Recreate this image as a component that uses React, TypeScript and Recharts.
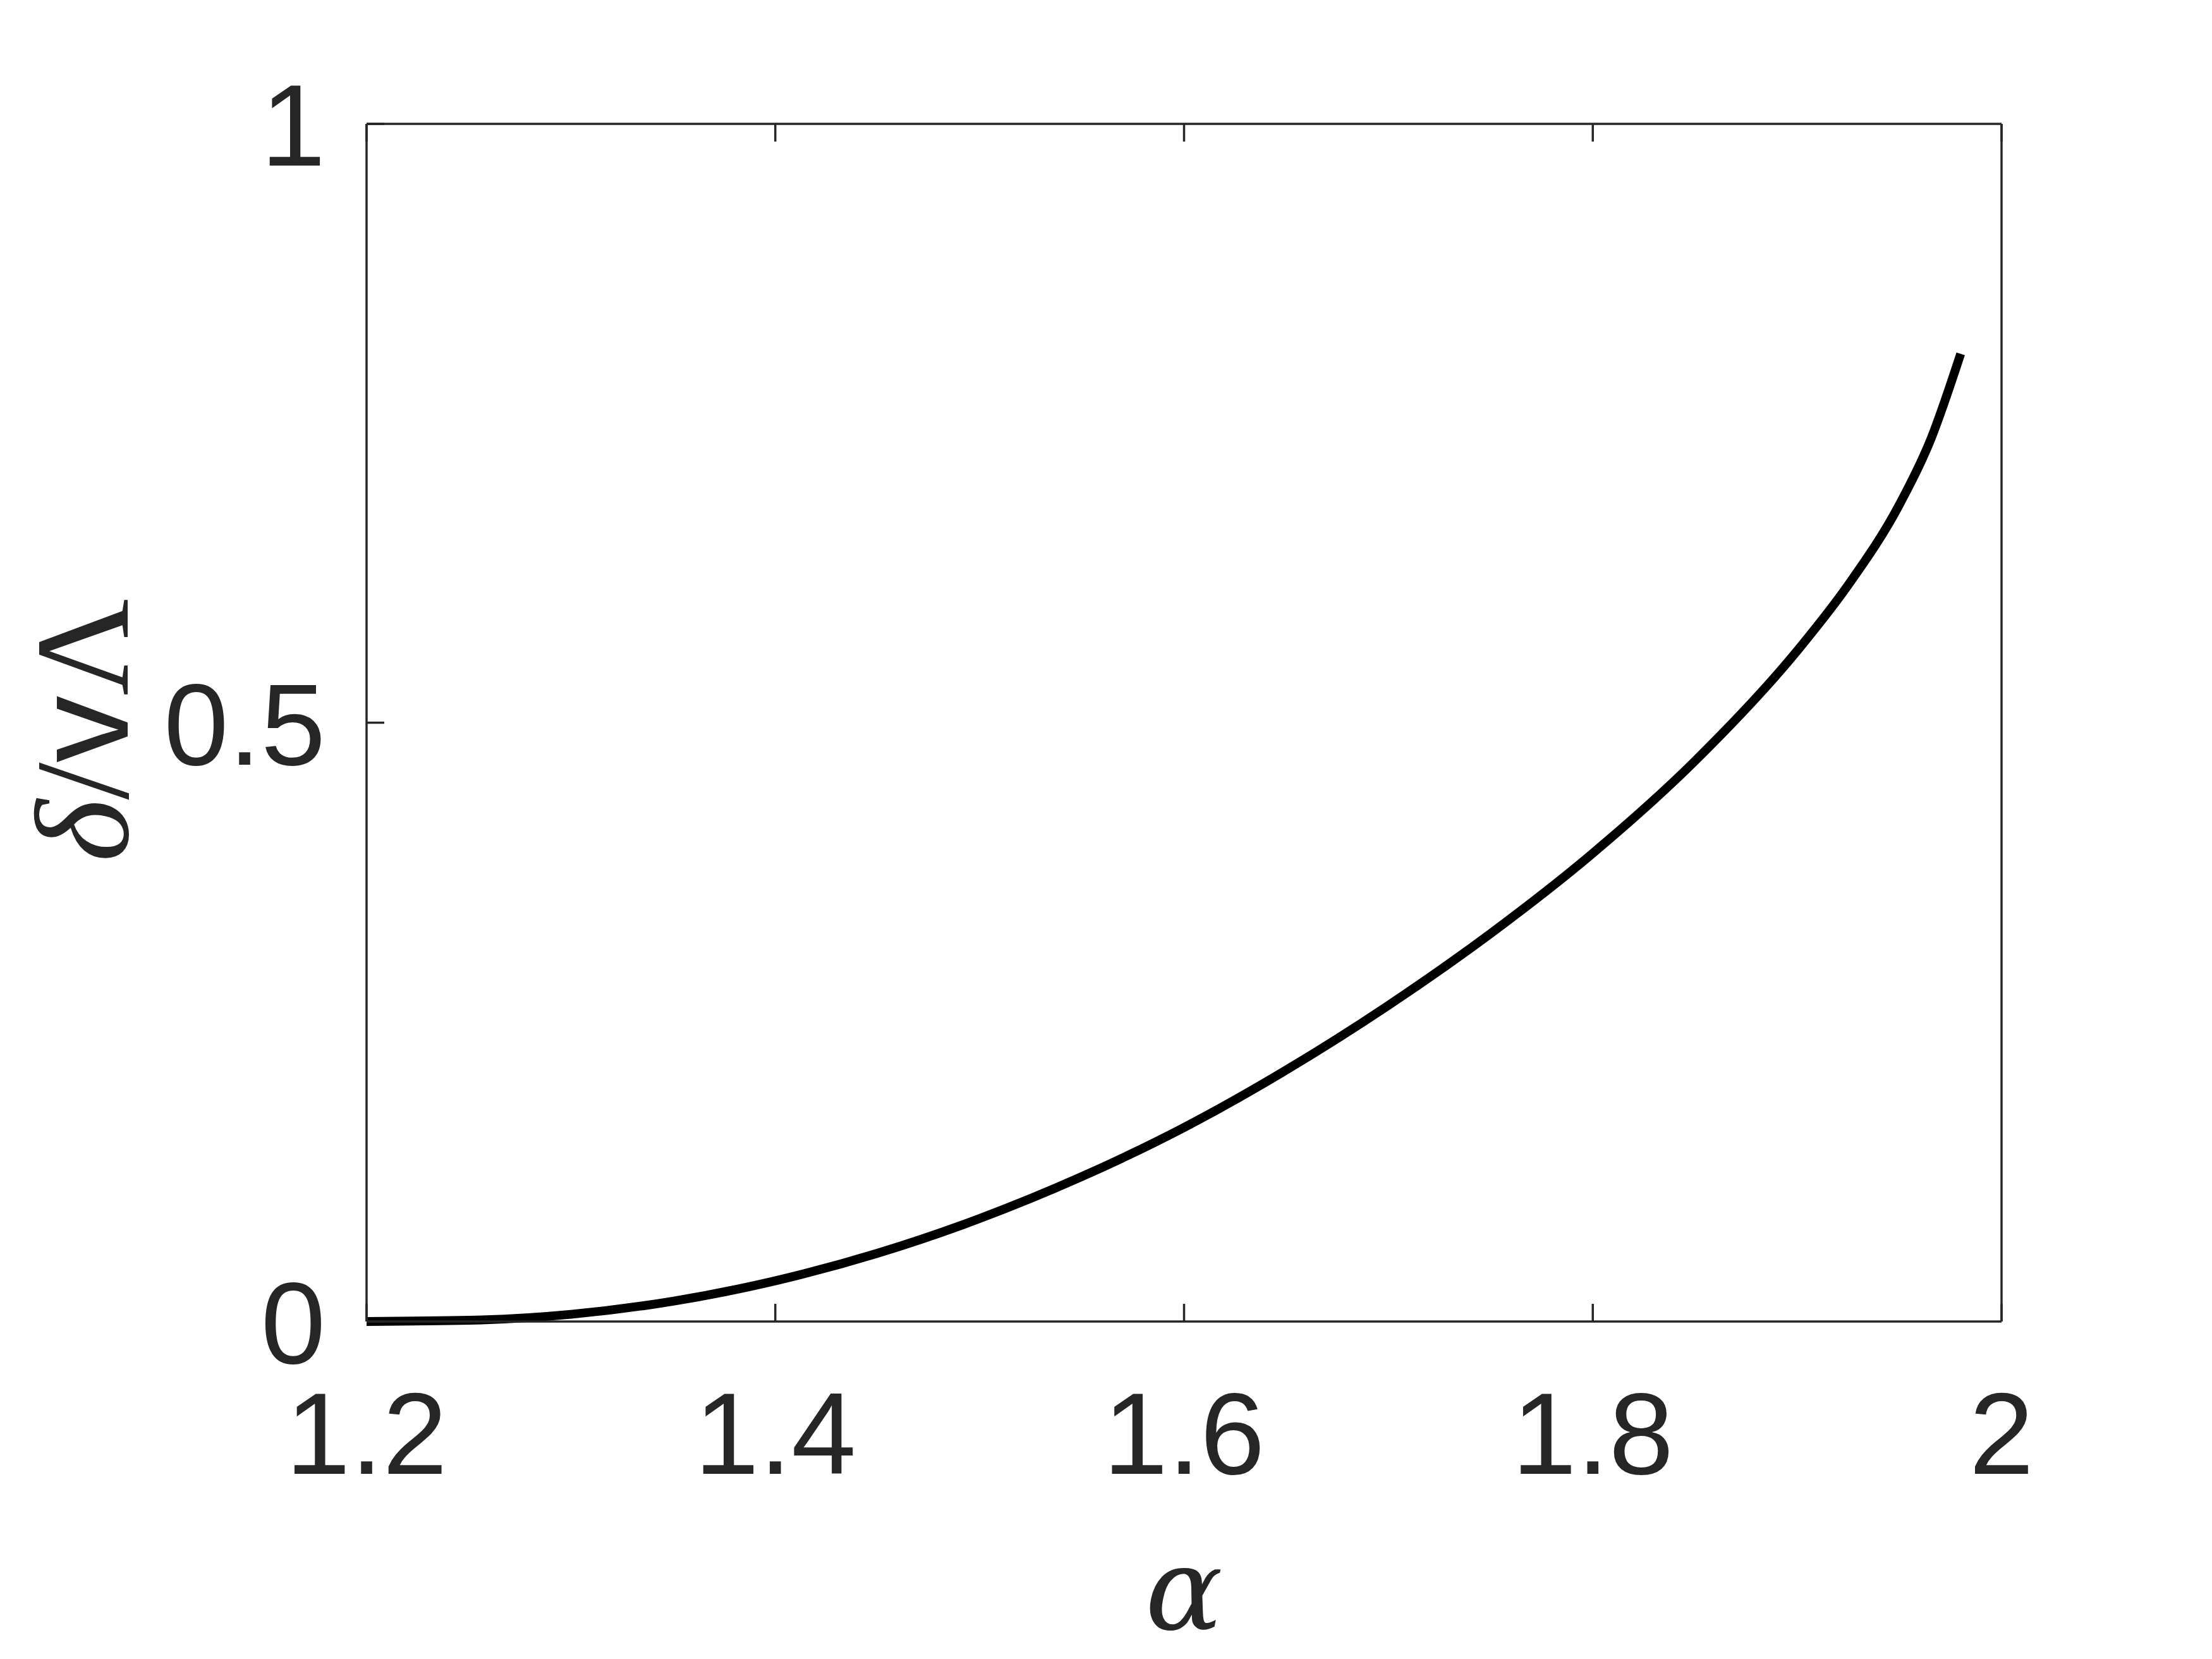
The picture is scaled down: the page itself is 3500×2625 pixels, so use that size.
import { LineChart, Line, XAxis, YAxis } from "recharts";

const alpha = [
  1.2, 1.25, 1.3, 1.35, 1.4, 1.45, 1.5, 1.55, 1.6, 1.65, 1.7, 1.75, 1.8, 1.85,
  1.9, 1.925, 1.95, 1.965, 1.98,
];
const ratio = [
  0, 0.001, 0.006, 0.017, 0.034, 0.057, 0.086, 0.121, 0.162, 0.21, 0.264,
  0.324, 0.391, 0.468, 0.56, 0.615, 0.682, 0.735, 0.808,
];
const xTicks = [1.2, 1.4, 1.6, 1.8, 2];
const yTicks = [0, 0.5, 1];

const data = alpha.map((a, i) => ({ alpha: a, ratio: ratio[i] }));

const AXIS = "#262626";
const TICK_LEN = 28;
const FONT = "'Liberation Sans', Arial, Helvetica, sans-serif";

function BottomTick({ x, y, payload }: any) {
  return (
    <g>
      <line x1={x} x2={x} y1={y} y2={y - TICK_LEN} stroke={AXIS} strokeWidth={3.5} />
      <text x={x} y={y + 241} textAnchor="middle" fontFamily={FONT} fontSize={184} fill={AXIS}>
        {payload.value}
      </text>
    </g>
  );
}

function TopTick({ x, y }: any) {
  return <line x1={x} x2={x} y1={y} y2={y + TICK_LEN} stroke={AXIS} strokeWidth={3.5} />;
}

function LeftTick({ x, y, payload }: any) {
  return (
    <g>
      <line x1={x} x2={x + TICK_LEN} y1={y} y2={y} stroke={AXIS} strokeWidth={3.5} />
      <text x={x - 65} y={y + 66} textAnchor="end" fontFamily={FONT} fontSize={184} fill={AXIS}>
        {payload.value}
      </text>
    </g>
  );
}

function RightTick({ x, y }: any) {
  return <line x1={x} x2={x - TICK_LEN} y1={y} y2={y} stroke={AXIS} strokeWidth={3.5} />;
}

function XLabel({ viewBox }: any) {
  const cx = viewBox.x + viewBox.width / 2;
  return (
    <text
      x={cx}
      y={viewBox.y + 487}
      textAnchor="middle"
      fontFamily="'DejaVu Serif', serif"
      fontStyle="italic"
      fontSize={182}
      fill={AXIS}
    >
      α
    </text>
  );
}

function YLabel({ viewBox }: any) {
  const cx = 202;
  const cy = viewBox.y + viewBox.height / 2 + 12;
  return (
    <text
      x={cx}
      y={cy}
      transform={`rotate(-90, ${cx}, ${cy})`}
      textAnchor="middle"
      fontFamily="'Liberation Serif', serif"
      fontSize={212}
      fill={AXIS}
    >
      <tspan fontStyle="italic">δ</tspan>
      <tspan>/</tspan>
      <tspan fontFamily={FONT}>v</tspan>
      <tspan>Λ</tspan>
    </text>
  );
}

export default function App() {
  return (
    <div style={{ position: "absolute", left: 0, top: 0, background: "#fff" }}>
      <LineChart
        width={3500}
        height={2625}
        data={data}
        margin={{ top: 186, right: 323, bottom: 434, left: 380 }}
      >
        <XAxis
          dataKey="alpha"
          type="number"
          domain={[1.2, 2]}
          ticks={xTicks}
          interval={0}
          height={100}
          tickSize={0}
          tickMargin={0}
          tick={<BottomTick />}
          axisLine={{ stroke: AXIS, strokeWidth: 3.5 }}
          label={<XLabel />}
        />
        <XAxis
          xAxisId="top"
          orientation="top"
          dataKey="alpha"
          type="number"
          domain={[1.2, 2]}
          ticks={xTicks}
          interval={0}
          height={10}
          tickSize={0}
          tickMargin={0}
          tick={<TopTick />}
          axisLine={{ stroke: AXIS, strokeWidth: 3.5 }}
        />
        <YAxis
          type="number"
          domain={[0, 1]}
          ticks={yTicks}
          interval={0}
          width={200}
          tickSize={0}
          tickMargin={0}
          tick={<LeftTick />}
          axisLine={{ stroke: AXIS, strokeWidth: 3.5 }}
          label={<YLabel />}
        />
        <YAxis
          yAxisId="right"
          orientation="right"
          type="number"
          domain={[0, 1]}
          ticks={yTicks}
          interval={0}
          width={10}
          tickSize={0}
          tickMargin={0}
          tick={<RightTick />}
          axisLine={{ stroke: AXIS, strokeWidth: 3.5 }}
        />
        <Line
          type="monotone"
          dataKey="ratio"
          stroke="#000"
          strokeWidth={14}
          dot={false}
          activeDot={false}
          isAnimationActive={false}
        />
      </LineChart>
    </div>
  );
}
